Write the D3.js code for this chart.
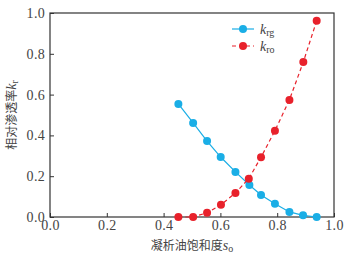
<!DOCTYPE html>
<html>
<head>
<meta charset="utf-8">
<script src="https://cdn.jsdelivr.net/npm/d3@7"></script>
<style>
  body { margin: 0; background: #fff; }
  text { font-family: "Liberation Serif", "Times New Roman", serif; }
</style>
</head>
<body>
<div id="chart"></div>
<script>
// chart data
const satKrg = [0.452, 0.504, 0.553, 0.601, 0.653, 0.702, 0.743, 0.792, 0.843, 0.891, 0.939];
const krgValues = [0.554, 0.461, 0.372, 0.294, 0.221, 0.157, 0.108, 0.065, 0.025, 0.008, 0.0];
const satKro = [0.452, 0.504, 0.553, 0.602, 0.653, 0.70, 0.743, 0.792, 0.843, 0.892, 0.939];
const kroValues = [0.0, 0.0, 0.021, 0.06, 0.118, 0.188, 0.293, 0.423, 0.574, 0.760, 0.962];
const tickValues = [0, 0.2, 0.4, 0.6, 0.8, 1.0];

const width = 353, height = 263;
const margins = { top: 13, right: 19, bottom: 46, left: 50 };
const chartWidth = width - margins.left - margins.right;
const chartHeight = height - margins.top - margins.bottom;

const blue = "#1aaee6";
const red = "#e8212b";
const textColor = "#444";

const svg = d3.select("#chart")
    .append("svg")
    .attr("width", width)
    .attr("height", height);

const chartGroup = svg.append("g")
    .attr("transform", `translate(${margins.left}, ${margins.top})`);

const xScale = d3.scaleLinear().domain([0, 1]).range([0, chartWidth]);
const yScale = d3.scaleLinear().domain([0, 1]).range([chartHeight, 0]);

// axes with ticks pointing inward
const bottomAxis = d3.axisBottom(xScale)
    .tickValues(tickValues)
    .tickFormat(d3.format(".1f"))
    .tickSizeInner(-4)
    .tickSizeOuter(0)
    .tickPadding(3);
const leftAxis = d3.axisLeft(yScale)
    .tickValues(tickValues)
    .tickFormat(d3.format(".1f"))
    .tickSizeInner(-4)
    .tickSizeOuter(0)
    .tickPadding(5);

const xAxis = chartGroup.append("g")
    .attr("transform", `translate(0, ${chartHeight})`)
    .call(bottomAxis);
const yAxis = chartGroup.append("g")
    .call(leftAxis);

[xAxis, yAxis].forEach(ax => {
    ax.attr("font-family", null);
    ax.select(".domain").remove();
    ax.selectAll(".tick line").attr("stroke", "#333");
    ax.selectAll(".tick text")
        .attr("fill", textColor)
        .style("font-size", "14px")
        .style("font-family", "'Liberation Serif', serif")
        .style("letter-spacing", "0.3px");
});

// frame
chartGroup.append("rect")
    .attr("width", chartWidth)
    .attr("height", chartHeight)
    .attr("fill", "none")
    .attr("stroke", "#333")
    .attr("stroke-width", 1.2);

// lines
const krgData = satKrg.map((s, i) => ({ x: s, y: krgValues[i] }));
const kroData = satKro.map((s, i) => ({ x: s, y: kroValues[i] }));

const line = d3.line()
    .x(d => xScale(d.x))
    .y(d => yScale(d.y));

chartGroup.append("path")
    .datum(krgData)
    .attr("d", line)
    .attr("fill", "none")
    .attr("stroke", blue)
    .attr("stroke-width", 1.2);

chartGroup.append("path")
    .datum(kroData)
    .attr("d", line)
    .attr("fill", "none")
    .attr("stroke", red)
    .attr("stroke-width", 1.2)
    .attr("stroke-dasharray", "4,3");

chartGroup.selectAll(".krg")
    .data(krgData)
    .enter()
    .append("circle")
    .attr("cx", d => xScale(d.x))
    .attr("cy", d => yScale(d.y))
    .attr("r", 4)
    .attr("fill", blue);

chartGroup.selectAll(".kro")
    .data(kroData)
    .enter()
    .append("circle")
    .attr("cx", d => xScale(d.x))
    .attr("cy", d => yScale(d.y))
    .attr("r", 4)
    .attr("fill", red);

// legend
const legend = svg.append("g").attr("transform", "translate(232, 29)");
const legendItems = [
    { sub: "rg", color: blue, dash: null },
    { sub: "ro", color: red, dash: "4,3" }
];
legendItems.forEach((item, i) => {
    const g = legend.append("g").attr("transform", `translate(0, ${i * 17})`);
    g.append("line")
        .attr("x1", 0).attr("x2", 22)
        .attr("stroke", item.color)
        .attr("stroke-width", 1.2)
        .attr("stroke-dasharray", item.dash);
    g.append("circle").attr("cx", 11).attr("r", 4).attr("fill", item.color);
    const t = g.append("text")
        .attr("x", 28)
        .attr("y", 5)
        .attr("fill", textColor)
        .style("font-size", "14px");
    t.append("tspan").style("font-style", "italic").text("k");
    t.append("tspan").attr("dy", 2).style("font-size", "10px").text(item.sub);
});

// axis titles
const xTitle = svg.append("text")
    .attr("x", margins.left + chartWidth / 2)
    .attr("y", 250)
    .attr("text-anchor", "middle")
    .attr("fill", textColor)
    .style("font-size", "12px");
xTitle.append("tspan").style("font-family", "'Noto Sans CJK SC', sans-serif").text("凝析油饱和度");
xTitle.append("tspan").style("font-style", "italic").style("font-size", "14px").text("s");
xTitle.append("tspan").attr("dy", 2).style("font-size", "10px").text("o");

const yTitle = svg.append("text")
    .attr("transform", `translate(16, ${margins.top + chartHeight / 2}) rotate(-90)`)
    .attr("text-anchor", "middle")
    .attr("fill", textColor)
    .style("font-size", "12px");
yTitle.append("tspan").style("font-family", "'Noto Sans CJK SC', sans-serif").text("相对渗透率");
yTitle.append("tspan").style("font-style", "italic").style("font-size", "14px").text("k");
yTitle.append("tspan").attr("dy", 2).style("font-size", "10px").text("r");
</script>
</body>
</html>
